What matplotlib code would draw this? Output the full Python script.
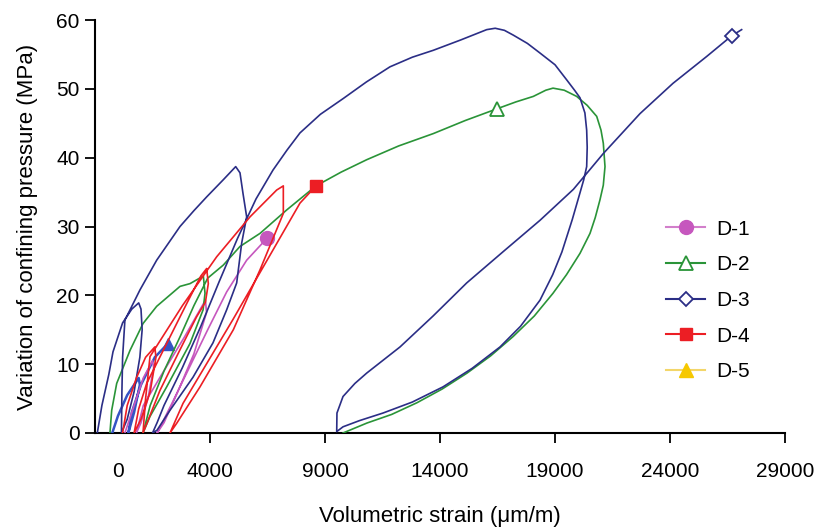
import matplotlib
matplotlib.use("Agg")
import matplotlib.pyplot as plt
from matplotlib.lines import Line2D

plt.rcParams['font.family'] = ['Liberation Sans', 'DejaVu Sans']

# ---- data (volumetric strain in um/m, confining pressure variation in MPa) ----
d1_x = [300, 700, 1100, 1500, 1550, 1300, 1000, 800, 1100, 1900, 2900, 3800, 3850, 3300, 2600, 2000, 1700,
        2300, 3100, 3900, 4725, 5594, 6480]
d1_y = [0, 4, 8, 10.5, 9.5, 5, 1.5, 0, 4, 8.5, 14, 19.3, 17.5, 11.5, 6, 1.5, 0,
        4, 9.5, 15, 20.5, 25.1, 28.3]

d2_x = [-350, -274, -57, 522, 957, 1087, 1681, 2696, 3130, 3710, 3783, 3700, 3130, 2116, 1391, 1087,
        1400, 2000, 2700, 3300, 3900, 4580, 5304, 6174, 7333, 8609, 9700, 10812, 12200, 13710, 15100,
        16478, 17300, 18057, 18600, 18913, 19400, 19943, 20400, 20813, 21000, 21100, 21174, 21100,
        20957, 20750, 20522, 20087, 19500, 18913, 18100, 17174, 16200, 15174, 14100, 13000, 11900,
        10826, 9783]
d2_y = [0, 3.3, 7.2, 12, 15, 15.9, 18.4, 21.3, 21.7, 22.8, 20.3, 17.9, 13, 6.7, 2.4, 0,
        4, 9, 14, 18.5, 22.5, 24.4, 27.1, 29, 32.4, 35.9, 37.9, 39.7, 41.7, 43.5, 45.4,
        47.1, 48.1, 48.9, 49.8, 50.1, 49.8, 48.9, 47.6, 46, 44, 42.1, 38.7, 36,
        33.9, 31.3, 29, 26.1, 23, 20.3, 17, 14, 11.2, 8.7, 6.4, 4.4, 2.7,
        1.45, 0]

d3_x = [-900, -700, -400, -217, 200, 600, 900, 1000, 1050, 950, 700, 400, 150,
        170, 200, 300, 957, 1681, 2696, 3300, 3855, 4580, 5117,
        5304, 5435, 5594, 5378, 5160, 4725, 4130, 3261, 2261, 1696, 1500,
        1700, 2000, 2800, 3600, 4400, 5200, 6000, 6739, 7348, 7913, 8800, 9796, 10800, 11826, 12800,
        13710, 14900, 16030, 16400, 16800, 17188, 17800, 18348, 19000, 19509, 19850, 20087, 20300,
        20377, 20400, 20377, 20250, 20087, 19750, 19300, 18900, 18348, 17500, 16609, 15400, 14130,
        12800, 11522, 10500, 9783, 9509,
        9520, 9783, 10300, 10812, 12261, 13700, 15160, 16800, 18348, 19800, 21100, 22696, 24130,
        25594, 26680, 27115]
d3_y = [0, 4, 8.5, 11.8, 16, 18, 18.9, 18, 15, 11, 6, 2, 0,
        6, 11, 16.4, 20.8, 25.1, 30, 32.3, 34.3, 36.8, 38.7,
        37.8, 34.8, 31.4, 27.6, 21.8, 17.9, 13.1, 8.1, 3.3, 0.4, 0,
        1.5, 4, 9.5, 15.5, 22, 28.3, 34, 38.2, 41.1, 43.6, 46.3, 48.6, 51, 53.2, 54.6,
        55.6, 57.1, 58.6, 58.8, 58.5, 57.8, 56.6, 55.2, 53.5, 51.3, 49.8, 48.7, 46.5,
        44, 41.5, 38.7, 36.8, 34.9, 31, 26.3, 23, 19.3, 15.5, 12.5, 9.4, 6.7,
        4.5, 2.9, 1.8, 0.9, 0.2,
        2.9, 5.3, 7.2, 8.7, 12.5, 17, 21.8, 26.5, 30.9, 35.4, 40.6, 46.4, 50.8,
        54.7, 57.7, 58.6]

d4_x = [200, 400, 800, 1200, 1600, 1650, 1400, 1000, 700,
        900, 1246, 2116, 2987, 3600, 3855, 3927, 3800, 3420, 2696, 1826, 1087,
        1200, 1391, 2800, 4290, 5739, 6900, 7188, 7188, 6174, 5014, 3565, 2550, 2260,
        2826, 5000, 7913, 8609]
d4_y = [0, 4, 8, 11, 12.5, 11, 6, 2, 0,
        3.5, 7.2, 13, 18.8, 22.8, 23.9, 21.7, 19, 16.9, 12.1, 6.2, 0,
        5, 11.1, 18.5, 25.6, 31.4, 35.3, 35.9, 31.9, 23.7, 15, 6.7, 1.4, 0,
        4.3, 16.5, 33.4, 35.9]

d5_x = [-250, 0, 400, 900, 950, 700, 450, 600, 1000, 1600, 2174]
d5_y = [0, 2.5, 5.5, 8, 7, 3, 0, 3, 7, 11, 13]

labels = ['D-1', 'D-2', 'D-3', 'D-4', 'D-5']
x_ticks = [4000, 9000, 14000, 19000, 24000, 29000]
y_ticks = [0, 10, 20, 30, 40, 50, 60]

# ---- styles ----
c1 = '#C657BE'
c2 = '#2A9438'
c3 = '#2B2E86'
c4 = '#EC1E24'
c5_line = '#3553C4'
c5_leg = '#F6C800'

fig = plt.figure(figsize=(8.21, 5.29), dpi=100)
ax = fig.add_axes([95 / 821, 1 - 433 / 529, (785 - 95) / 821, (433 - 20) / 529])

lw = 1.2
ax.plot(d5_x, d5_y, color=c5_line, lw=1.8, marker='^', markevery=[len(d5_x) - 1], ms=9,
        mfc=c5_line, mec=c5_line, zorder=3)
ax.plot(d1_x, d1_y, color=c1, lw=lw, marker='o', markevery=[len(d1_x) - 1], ms=10,
        mfc=c1, mec=c1, zorder=4)
ax.plot(d2_x, d2_y, color=c2, lw=lw, marker='^', markevery=[d2_x.index(16478)], ms=10,
        mfc='white', mec=c2, mew=1.3, zorder=4)
ax.plot(d3_x, d3_y, color=c3, lw=lw, marker='D', markevery=[len(d3_x) - 2], ms=7,
        mfc='white', mec=c3, mew=1.3, zorder=4)
ax.plot(d4_x, d4_y, color=c4, lw=lw, marker='s', markevery=[len(d4_x) - 1], ms=9,
        mfc=c4, mec=c4, zorder=5)

ax.set_xlim(-1000, 29000)
ax.set_ylim(0, 60)
for s in ['top', 'right']:
    ax.spines[s].set_visible(False)
for s in ['left', 'bottom']:
    ax.spines[s].set_linewidth(1.5)
    ax.spines[s].set_color('black')

ax.set_xticks(x_ticks)
ax.set_xticklabels([str(v) for v in x_ticks])
ax.set_xticks([0], labels=['0'], minor=True)
ax.set_yticks(y_ticks)
ax.tick_params(axis='both', which='major', direction='out', length=7, width=1.3,
               labelsize=15, pad=4, colors='black')
ax.tick_params(axis='x', which='major', pad=14)
ax.tick_params(axis='x', which='minor', length=0, labelsize=15, pad=21)

ax.set_xlabel('Volumetric strain (μm/m)', fontsize=16, labelpad=18)
ax.set_ylabel('Variation of confining pressure (MPa)', fontsize=16, labelpad=13)

handles = [
    Line2D([], [], color='#D27FCB', lw=1.5, marker='o', ms=10, mfc=c1, mec=c1),
    Line2D([], [], color=c2, lw=1.5, marker='^', ms=10, mfc='white', mec=c2, mew=1.3),
    Line2D([], [], color=c3, lw=1.5, marker='D', ms=7, mfc='white', mec=c3, mew=1.3),
    Line2D([], [], color=c4, lw=1.5, marker='s', ms=9, mfc=c4, mec=c4),
    Line2D([], [], color='#F3D66A', lw=1.5, marker='^', ms=10, mfc=c5_leg, mec=c5_leg),
]
fig.legend(handles, labels, loc='upper left', bbox_to_anchor=(647 / 821, 1 - 201 / 529),
           frameon=False, fontsize=15, handlelength=1.9, labelspacing=0.8, handletextpad=0.5)

fig.savefig('out.png', dpi=100, facecolor='white')
